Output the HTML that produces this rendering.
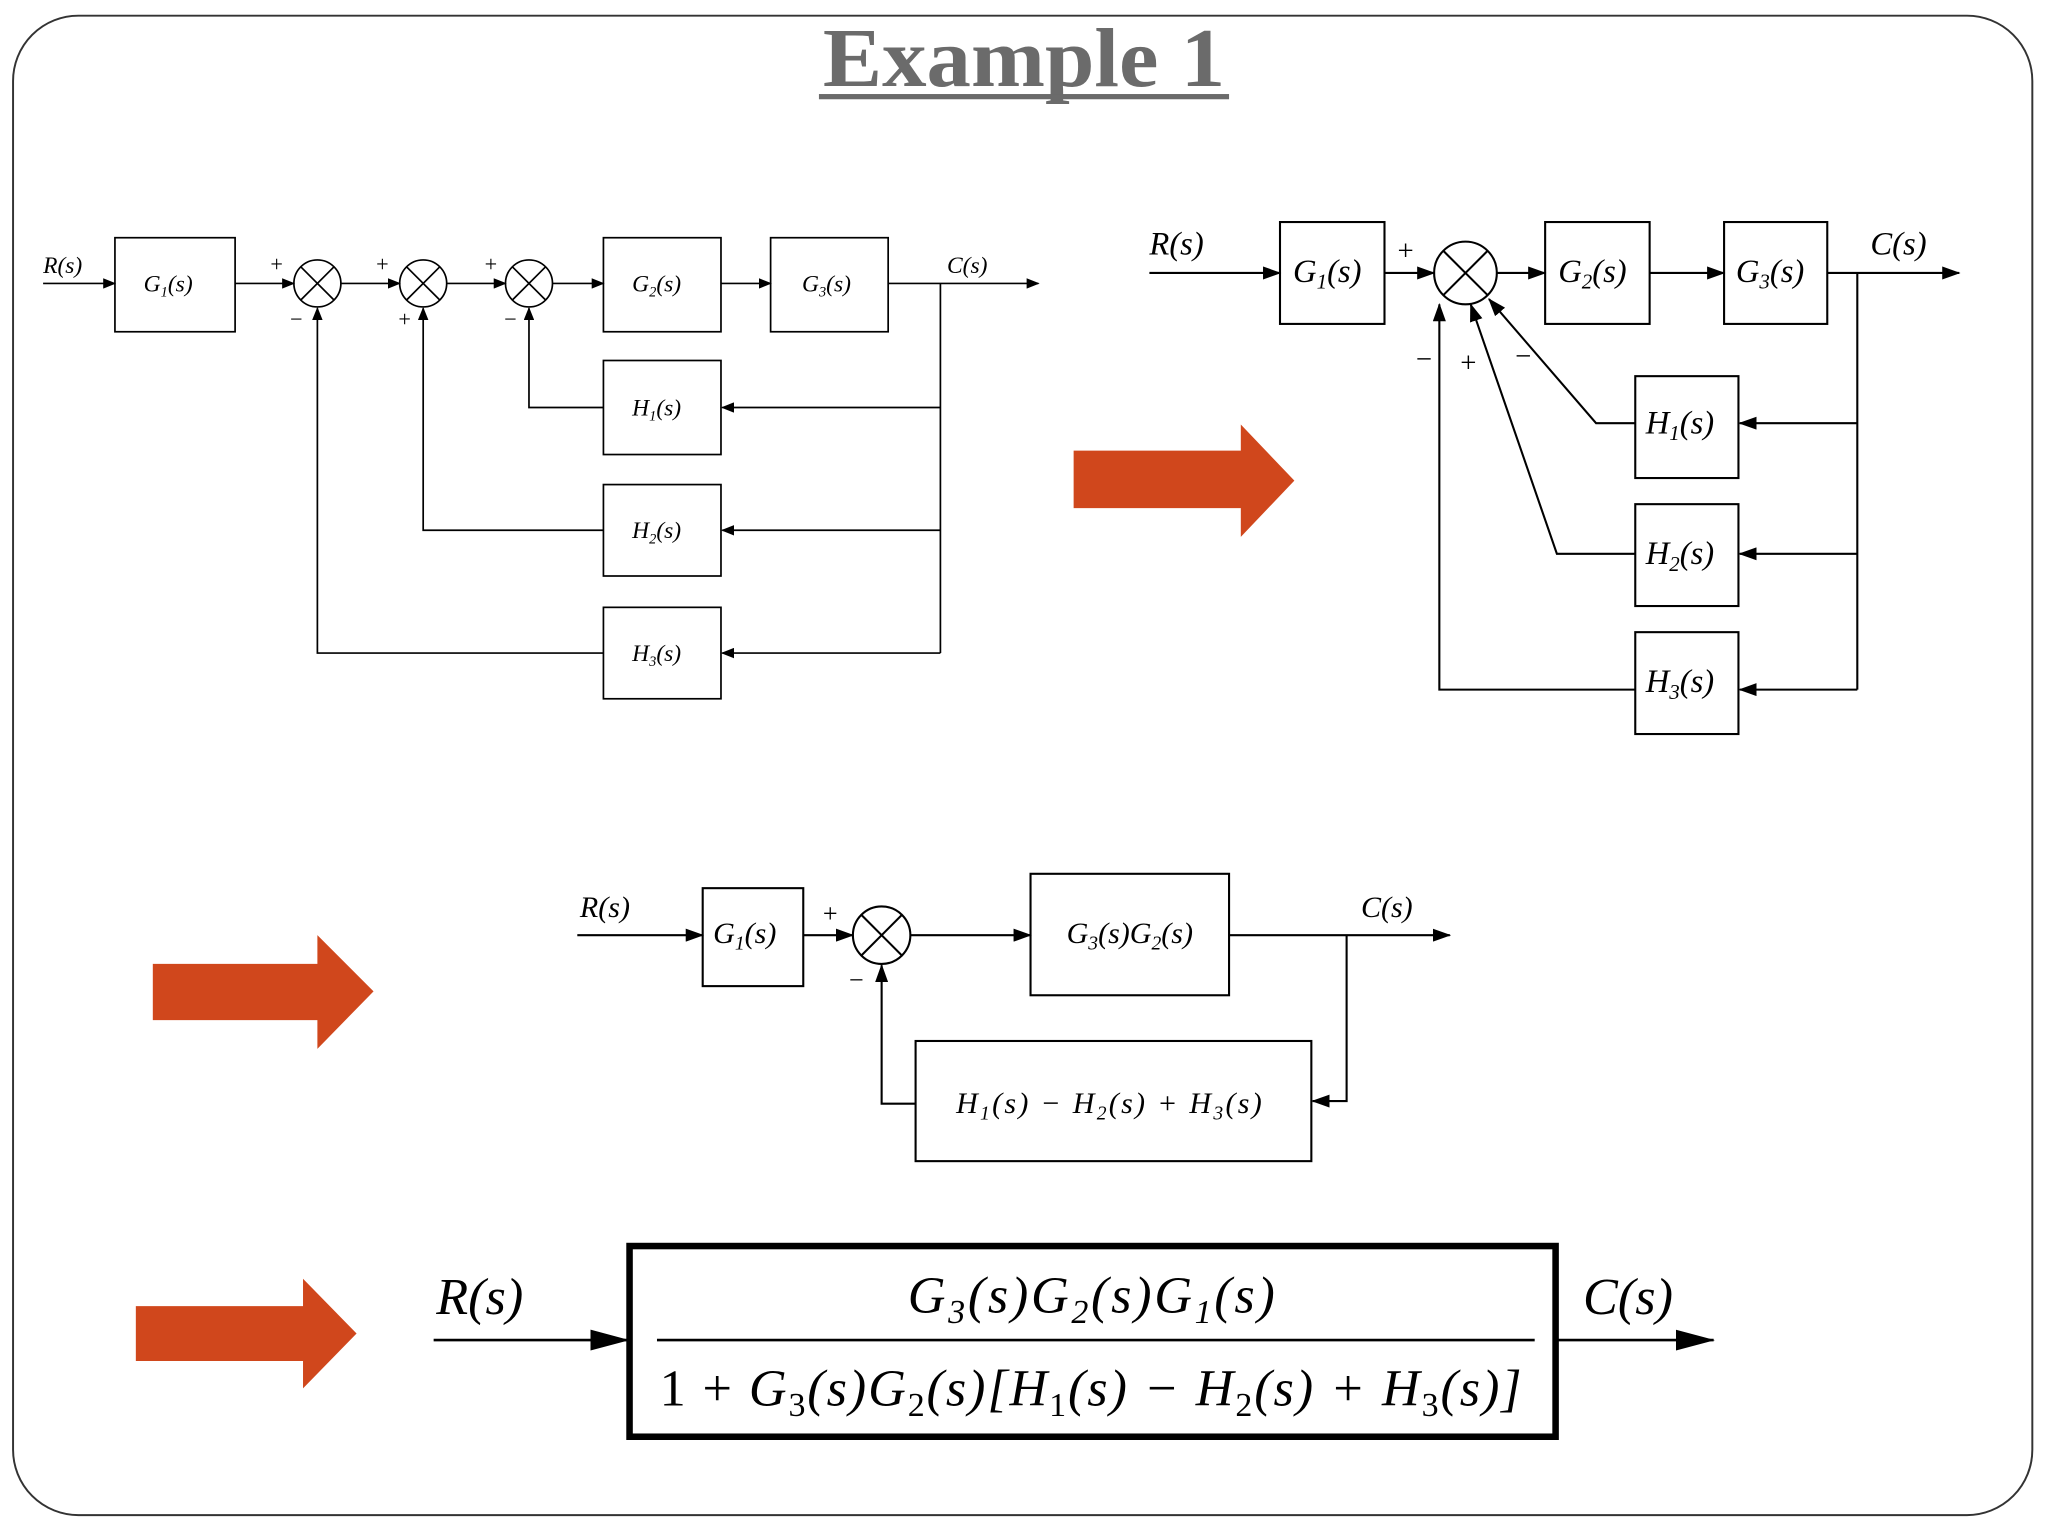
<!DOCTYPE html>
<html><head><meta charset="utf-8"><style>
html,body{margin:0;padding:0;background:#fff;}
svg{display:block;}
text{font-family:"Liberation Serif",serif;}
.i{font-style:italic;}
</style></head><body>
<svg width="2048" height="1536" viewBox="0 0 1568 1176" preserveAspectRatio="none" xmlns="http://www.w3.org/2000/svg">
<defs>
<marker id="a" markerWidth="10" markerHeight="8" refX="9" refY="4" orient="auto" markerUnits="userSpaceOnUse"><path d="M0,0 L10,4 L0,8 z" fill="#000"/></marker>
<marker id="b" markerWidth="14" markerHeight="10" refX="13" refY="5" orient="auto" markerUnits="userSpaceOnUse"><path d="M0,0 L14,5 L0,10 z" fill="#000"/></marker>
<marker id="c" markerWidth="30" markerHeight="16" refX="29" refY="8" orient="auto" markerUnits="userSpaceOnUse"><path d="M0,0 L30,8 L0,16 z" fill="#000"/></marker>
</defs>
<rect x="10" y="12" width="1546" height="1148" rx="50" fill="#fff" stroke="#333" stroke-width="1.5"/>
<text x="630" y="66" textLength="308" lengthAdjust="spacingAndGlyphs" font-size="64" font-weight="bold" fill="#6b6b6b">Example 1</text>
<rect x="627" y="72" width="314" height="4" fill="#6b6b6b"/>

<!-- Diagram 1 -->
<g stroke="#000" stroke-width="1.3" fill="none">
<line x1="33" y1="217" x2="88" y2="217" marker-end="url(#a)"/>
<rect x="88" y="182" width="92" height="72"/>
<line x1="180" y1="217" x2="225" y2="217" marker-end="url(#a)"/>
<circle cx="243" cy="217" r="18"/><line x1="230" y1="204" x2="256" y2="230"/><line x1="256" y1="204" x2="230" y2="230"/>
<line x1="261" y1="217" x2="306" y2="217" marker-end="url(#a)"/>
<circle cx="324" cy="217" r="18"/><line x1="311" y1="204" x2="337" y2="230"/><line x1="337" y1="204" x2="311" y2="230"/>
<line x1="342" y1="217" x2="387" y2="217" marker-end="url(#a)"/>
<circle cx="405" cy="217" r="18"/><line x1="392" y1="204" x2="418" y2="230"/><line x1="418" y1="204" x2="392" y2="230"/>
<line x1="423" y1="217" x2="462" y2="217" marker-end="url(#a)"/>
<rect x="462" y="182" width="90" height="72"/>
<line x1="552" y1="217" x2="590" y2="217" marker-end="url(#a)"/>
<rect x="590" y="182" width="90" height="72"/>
<line x1="680" y1="217" x2="795" y2="217" marker-end="url(#a)"/>
<line x1="720" y1="217" x2="720" y2="500"/>
<rect x="462" y="276" width="90" height="72"/>
<rect x="462" y="371" width="90" height="70"/>
<rect x="462" y="465" width="90" height="70"/>
<line x1="720" y1="312" x2="553" y2="312" marker-end="url(#a)"/>
<line x1="720" y1="406" x2="553" y2="406" marker-end="url(#a)"/>
<line x1="720" y1="500" x2="553" y2="500" marker-end="url(#a)"/>
<polyline points="462,312 405,312 405,236" marker-end="url(#a)"/>
<polyline points="462,406 324,406 324,236" marker-end="url(#a)"/>
<polyline points="462,500 243,500 243,236" marker-end="url(#a)"/>
</g>
<g font-size="18" class="i">
<text x="33" y="209" class="i">R(s)</text>
<text x="110" y="223" class="i">G<tspan font-size="11" dy="4">1</tspan><tspan dy="-4">(s)</tspan></text>
<text x="484" y="223" class="i">G<tspan font-size="11" dy="4">2</tspan><tspan dy="-4">(s)</tspan></text>
<text x="614" y="223" class="i">G<tspan font-size="11" dy="4">3</tspan><tspan dy="-4">(s)</tspan></text>
<text x="484" y="318" class="i">H<tspan font-size="11" dy="4">1</tspan><tspan dy="-4">(s)</tspan></text>
<text x="484" y="412" class="i">H<tspan font-size="11" dy="4">2</tspan><tspan dy="-4">(s)</tspan></text>
<text x="484" y="506" class="i">H<tspan font-size="11" dy="4">3</tspan><tspan dy="-4">(s)</tspan></text>
<text x="725" y="209" class="i">C(s)</text>
</g>
<g font-size="17">
<text x="207" y="208">+</text><text x="222" y="250">−</text>
<text x="288" y="208">+</text><text x="305" y="250">+</text>
<text x="371" y="208">+</text><text x="386" y="250">−</text>
</g>

<!-- red arrows -->
<g fill="#d0471c">
<polygon points="822,345 950,345 950,325 991,368 950,411 950,389 822,389"/>
<polygon points="117,738 243,738 243,716 286,759 243,803 243,781 117,781"/>
<polygon points="104,1000 232,1000 232,979 273,1021 232,1063 232,1042 104,1042"/>
</g>

<!-- Diagram 2 -->
<g stroke="#000" stroke-width="1.6" fill="none">
<line x1="880" y1="209" x2="980" y2="209" marker-end="url(#b)"/>
<rect x="980" y="170" width="80" height="78"/>
<line x1="1060" y1="209" x2="1098" y2="209" marker-end="url(#b)"/>
<circle cx="1122" cy="209" r="24"/><line x1="1105" y1="192" x2="1139" y2="226"/><line x1="1139" y1="192" x2="1105" y2="226"/>
<line x1="1146" y1="209" x2="1183" y2="209" marker-end="url(#b)"/>
<rect x="1183" y="170" width="80" height="78"/>
<line x1="1263" y1="209" x2="1320" y2="209" marker-end="url(#b)"/>
<rect x="1320" y="170" width="79" height="78"/>
<line x1="1399" y1="209" x2="1500" y2="209" marker-end="url(#b)"/>
<line x1="1422" y1="209" x2="1422" y2="528"/>
<rect x="1252" y="288" width="79" height="78"/>
<rect x="1252" y="386" width="79" height="78"/>
<rect x="1252" y="484" width="79" height="78"/>
<line x1="1422" y1="324" x2="1332" y2="324" marker-end="url(#b)"/>
<line x1="1422" y1="424" x2="1332" y2="424" marker-end="url(#b)"/>
<line x1="1422" y1="528" x2="1332" y2="528" marker-end="url(#b)"/>
<polyline points="1252,324 1222,324 1140,229" marker-end="url(#b)"/>
<polyline points="1252,424 1192,424 1126,233" marker-end="url(#b)"/>
<polyline points="1252,528 1102,528 1102,233" marker-end="url(#b)"/>
</g>
<g font-size="25">
<text x="880" y="195" class="i">R(s)</text>
<text x="990" y="216" class="i">G<tspan font-size="16" dy="5">1</tspan><tspan dy="-5">(s)</tspan></text>
<text x="1193" y="216" class="i">G<tspan font-size="16" dy="5">2</tspan><tspan dy="-5">(s)</tspan></text>
<text x="1329" y="216" class="i">G<tspan font-size="16" dy="5">3</tspan><tspan dy="-5">(s)</tspan></text>
<text x="1260" y="332" class="i">H<tspan font-size="16" dy="5">1</tspan><tspan dy="-5">(s)</tspan></text>
<text x="1260" y="432" class="i">H<tspan font-size="16" dy="5">2</tspan><tspan dy="-5">(s)</tspan></text>
<text x="1260" y="530" class="i">H<tspan font-size="16" dy="5">3</tspan><tspan dy="-5">(s)</tspan></text>
<text x="1432" y="195" class="i">C(s)</text>
<text x="1070" y="199" font-size="22">+</text>
<text x="1084" y="282" font-size="22">−</text>
<text x="1118" y="285" font-size="22">+</text>
<text x="1160" y="280" font-size="22">−</text>
</g>

<!-- Diagram 3 -->
<g stroke="#000" stroke-width="1.6" fill="none">
<line x1="442" y1="716" x2="538" y2="716" marker-end="url(#b)"/>
<rect x="538" y="680" width="77" height="75"/>
<line x1="615" y1="716" x2="653" y2="716" marker-end="url(#b)"/>
<circle cx="675" cy="716" r="22"/><line x1="659" y1="700" x2="691" y2="732"/><line x1="691" y1="700" x2="659" y2="732"/>
<line x1="697" y1="716" x2="789" y2="716" marker-end="url(#b)"/>
<rect x="789" y="669" width="152" height="93"/>
<line x1="941" y1="716" x2="1110" y2="716" marker-end="url(#b)"/>
<polyline points="1031,716 1031,843 1005,843" marker-end="url(#b)"/>
<rect x="701" y="797" width="303" height="92"/>
<polyline points="701,845 675,845 675,739" marker-end="url(#b)"/>
</g>
<g font-size="23">
<text x="444" y="702" class="i">R(s)</text>
<text x="546" y="722" class="i">G<tspan font-size="15" dy="5">1</tspan><tspan dy="-5">(s)</tspan></text>
<text x="865" y="722" text-anchor="middle" class="i">G<tspan font-size="15" dy="5">3</tspan><tspan dy="-5">(s)G</tspan><tspan font-size="15" dy="5">2</tspan><tspan dy="-5">(s)</tspan></text>
<text x="732" y="852" textLength="234" lengthAdjust="spacing" class="i">H<tspan font-size="15" dy="5">1</tspan><tspan dy="-5">(s) − H</tspan><tspan font-size="15" dy="5">2</tspan><tspan dy="-5">(s) + H</tspan><tspan font-size="15" dy="5">3</tspan><tspan dy="-5">(s)</tspan></text>
<text x="1042" y="702" class="i">C(s)</text>
<text x="630" y="706" font-size="20">+</text>
<text x="650" y="757" font-size="20">−</text>
</g>

<!-- Final -->
<g stroke="#000" fill="none">
<line x1="332" y1="1026" x2="481" y2="1026" stroke-width="2" marker-end="url(#c)"/>
<rect x="482" y="954" width="709" height="146" stroke-width="5"/>
<line x1="503" y1="1026" x2="1175" y2="1026" stroke-width="2"/>
<line x1="1191" y1="1026" x2="1312" y2="1026" stroke-width="2" marker-end="url(#c)"/>
</g>
<g font-size="40">
<text x="334" y="1006" class="i">R(s)</text>
<text x="1212" y="1006" class="i">C(s)</text>
<text x="695" y="1005" textLength="281" lengthAdjust="spacing" class="i">G<tspan font-size="26" dy="8">3</tspan><tspan dy="-8">(s)G</tspan><tspan font-size="26" dy="8">2</tspan><tspan dy="-8">(s)G</tspan><tspan font-size="26" dy="8">1</tspan><tspan dy="-8">(s)</tspan></text>
<text x="505" y="1076" textLength="660" lengthAdjust="spacing"><tspan>1 + </tspan><tspan class="i">G</tspan><tspan font-size="26" dy="8">3</tspan><tspan dy="-8" class="i">(s)G</tspan><tspan font-size="26" dy="8">2</tspan><tspan dy="-8" class="i">(s)[H</tspan><tspan font-size="26" dy="8">1</tspan><tspan dy="-8" class="i">(s) − H</tspan><tspan font-size="26" dy="8">2</tspan><tspan dy="-8" class="i">(s) + H</tspan><tspan font-size="26" dy="8">3</tspan><tspan dy="-8" class="i">(s)]</tspan></text>
</g>
</svg>
</body></html>
